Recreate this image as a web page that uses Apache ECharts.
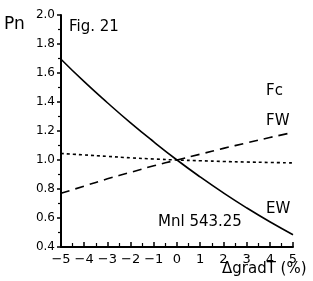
<!DOCTYPE html>
<html><head><meta charset="utf-8">
<script src="https://cdn.jsdelivr.net/npm/echarts@6/dist/echarts.min.js"></script>
<style>html,body{margin:0;padding:0;background:#fff}#c{width:313px;height:281px}</style>
</head><body><div id="c"></div>
<script>
const xValues = [-5, -4, -3, -2, -1, 0, 1, 2, 3, 4, 5];
const ewValues = [1.695, 1.54, 1.395, 1.256, 1.125, 1.00, 0.883, 0.773, 0.670, 0.574, 0.485];
const fcValues = [0.77, 0.82, 0.87, 0.915, 0.96, 1.00, 1.04, 1.08, 1.118, 1.155, 1.19];
const fwValues = [1.045, 1.035, 1.025, 1.015, 1.007, 1.00, 0.995, 0.99, 0.986, 0.983, 0.98];
const seriesNames = ['EW', 'Fc', 'FW'];
const figTitle = 'Fig. 21';
const yTitle = 'Pn';
const xTitle = 'ΔgradT (%)';
const note = 'Mnl 543.25';

const font = 'DejaVu Sans';
const pair = v => xValues.map((x, i) => [x, v[i]]);
const chart = echarts.init(document.getElementById('c'), null, {renderer: 'canvas'});
chart.setOption({
  animation: false,
  backgroundColor: '#fff',
  grid: {left: 61, right: 20, top: 15, bottom: 34},
  xAxis: {
    type: 'value', min: -5, max: 5, interval: 1,
    axisLine: {onZero: false, lineStyle: {color: '#000', width: 2}},
    axisTick: {inside: true, length: 5, lineStyle: {color: '#000', width: 1.5}},
    minorTick: {show: true, splitNumber: 2, length: 4, lineStyle: {color: '#000', width: 1.2}},
    splitLine: {show: false},
    axisLabel: {color: '#000', fontFamily: font, fontSize: 13, margin: 6,
      formatter: v => (v < 0 ? '\u2212' + Math.abs(v) : String(v))}
  },
  yAxis: {
    type: 'value', min: 0.4, max: 2.0, interval: 0.2,
    axisLine: {show: true, onZero: false, lineStyle: {color: '#000', width: 2}},
    axisTick: {show: true, length: 4, lineStyle: {color: '#000', width: 1.5}},
    minorTick: {show: true, splitNumber: 2, length: 3, lineStyle: {color: '#000', width: 1.2}},
    splitLine: {show: false},
    axisLabel: {color: '#000', fontFamily: font, fontSize: 12, margin: 6,
      formatter: v => v.toFixed(1)}
  },
  series: [
    {name: seriesNames[0], type: 'line', data: pair(ewValues), smooth: true, symbol: 'none',
      lineStyle: {color: '#000', width: 1.6}},
    {name: seriesNames[1], type: 'line', data: pair(fcValues), smooth: true, symbol: 'none',
      lineStyle: {color: '#000', width: 1.6, type: [9, 6]}},
    {name: seriesNames[2], type: 'line', data: pair(fwValues), smooth: true, symbol: 'none',
      lineStyle: {color: '#000', width: 1.6, type: [3, 3]}}
  ],
  graphic: [
    {type: 'text', left: 4, top: 16, style: {text: yTitle, fontFamily: font, fontSize: 17, fill: '#000'}},
    {type: 'text', left: 69, top: 20, style: {text: figTitle, fontFamily: font, fontSize: 15, fill: '#000'}},
    {type: 'text', left: 266, top: 84, style: {text: seriesNames[1], fontFamily: font, fontSize: 15, fill: '#000'}},
    {type: 'text', left: 266, top: 114, style: {text: seriesNames[2], fontFamily: font, fontSize: 15, fill: '#000'}},
    {type: 'text', left: 266, top: 202, style: {text: seriesNames[0], fontFamily: font, fontSize: 15, fill: '#000'}},
    {type: 'text', left: 158, top: 215, style: {text: note, fontFamily: font, fontSize: 15, fill: '#000'}},
    {type: 'text', left: 222, top: 262, style: {text: xTitle, fontFamily: font, fontSize: 15, fill: '#000'}}
  ]
});
</script></body></html>
